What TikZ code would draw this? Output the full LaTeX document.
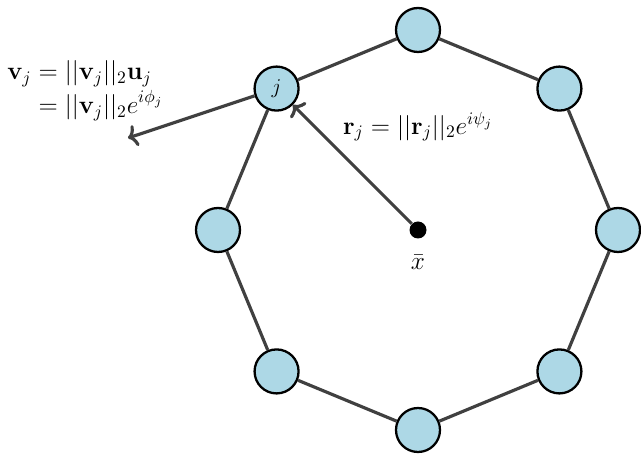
\documentclass[tikz,border=0pt]{standalone}
\usepackage{amsmath}
\usetikzlibrary{arrows.meta}
\definecolor{vertexfill}{RGB}{173,216,230}
\definecolor{edgegray}{RGB}{64,64,64}
\begin{document}
\begin{tikzpicture}[
  vertex/.style={circle, draw=black, line width=1.3pt, fill=vertexfill,
    minimum size=0.88cm, inner sep=0pt},
  ring/.style={draw=edgegray, line width=1.8pt},
  vecarrow/.style={draw=edgegray, line width=1.8pt,
    -{To[length=1.8mm,width=4.4mm]}},
  centre/.style={circle, fill=black, minimum size=0.34cm, inner sep=0pt},
  lbl/.style={font=\Large, inner sep=0pt}
]
\useasboundingbox (-8.36,-4.5) rectangle (4.46,4.6);

% eight vertices on a circle of radius 4
\foreach \k in {0,...,7}
  \coordinate (p\k) at ({45*\k}:4);
\node[vertex] (n0) at (p0) {};
\node[vertex] (n1) at (p1) {};
\node[vertex] (n2) at (p2) {};
\node[vertex] (n3) at (p3) {\large$j$};
\node[vertex] (n4) at (p4) {};
\node[vertex] (n5) at (p5) {};
\node[vertex] (n6) at (p6) {};
\node[vertex] (n7) at (p7) {};

% polygon edges
\foreach \a/\b in {0/1,1/2,2/3,3/4,4/5,5/6,6/7,7/0}
  \draw[ring] (n\a) -- (n\b);

% centroid
\node[centre] (c) at (0,0) {};
\node[lbl] (cl) at (0,-0.64) {$\bar{x}$};

% velocity of vertex j
\coordinate (vend) at (-5.8,1.84);
\draw[vecarrow] (n3) -- (vend);
\node[lbl, anchor=west] (vl) at (-8.22,2.8)
  {$\begin{aligned}\mathbf{v}_j &= ||\mathbf{v}_j||_2\mathbf{u}_j\\[-3pt]
   &= ||\mathbf{v}_j||_2 e^{i\phi_j}\end{aligned}$};

% position relative to the centroid
\draw[vecarrow] (c) -- (n3);
\node[lbl] (rl) at (0,2.06) {$\mathbf{r}_j = ||\mathbf{r}_j||_2 e^{i\psi_j}$};
\end{tikzpicture}
\end{document}
